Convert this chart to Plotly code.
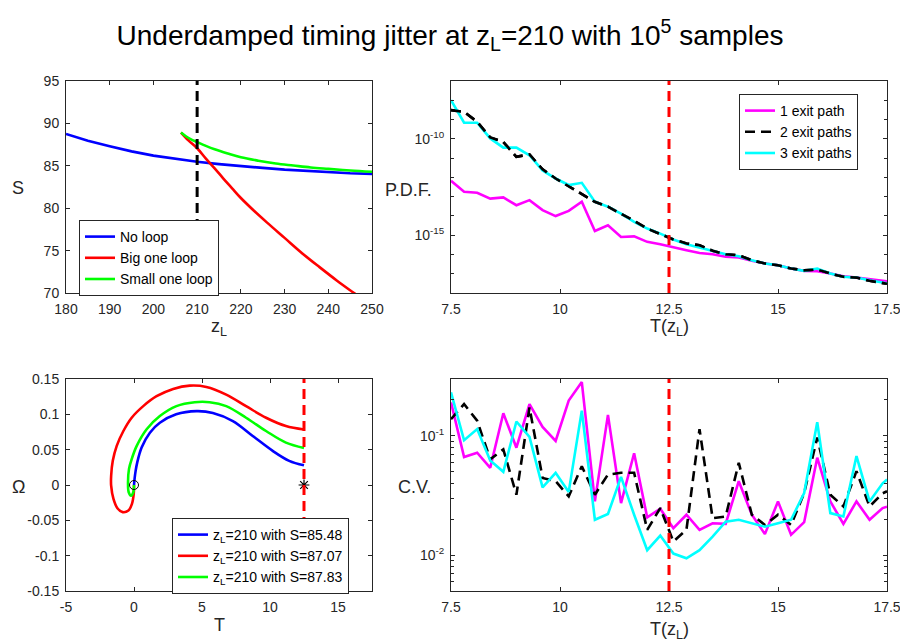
import plotly.graph_objects as go

# ---------------- data ----------------
TITLE = "Underdamped timing jitter at z<sub>L</sub>=210 with 10<sup>5</sup> samples"
zL_mark = 210
T_mark = 12.5

# Panel 1: action S vs z_L
z_noloop = [180, 185, 190, 195, 200, 205, 210, 215, 220, 225, 230, 235, 240, 245, 250]
S_noloop = [88.75, 87.95, 87.3, 86.7, 86.2, 85.8, 85.48, 85.2, 84.95, 84.75, 84.55, 84.4, 84.25, 84.12, 84.05]
z_big = [206.3, 208, 210, 212, 214, 216, 218, 220, 223, 226, 230, 234, 238, 242, 246, 248]
S_big = [88.92, 88.0, 87.07, 85.85, 84.7, 83.5, 82.35, 81.2, 79.7, 78.3, 76.5, 74.7, 73.05, 71.45, 69.95, 69.2]
z_small = [206.3, 207.5, 208.5, 210, 212, 214, 217, 220, 224, 228, 232, 236, 240, 245, 250]
S_small = [88.92, 88.45, 88.15, 87.8, 87.35, 86.95, 86.45, 86.0, 85.6, 85.27, 85.03, 84.8, 84.64, 84.45, 84.3]
z_ticks = [180, 190, 200, 210, 220, 230, 240, 250]
S_ticks = [70, 75, 80, 85, 90, 95]

# Panels 2 & 4: sampling grid in T(z_L)
T_grid = [7.5, 7.8, 8.1, 8.4, 8.7, 9.0, 9.3, 9.6, 9.9, 10.2, 10.5, 10.8, 11.1, 11.4, 11.7,
          12.0, 12.3, 12.6, 12.9, 13.2, 13.5, 13.8, 14.1, 14.4, 14.7, 15.0, 15.3, 15.6,
          15.9, 16.2, 16.5, 16.8, 17.1, 17.4, 17.5]

pdf_1path = [6.6e-13, 1.78e-13, 1.58e-13, 7.9e-14, 9.1e-14, 3.6e-14, 6.6e-14, 2.0e-14, 9.8e-15,
             1.82e-14, 5.4e-14, 1.66e-15, 3.3e-15, 8.1e-16, 8.7e-16, 4.5e-16, 3.4e-16, 2.3e-16,
             1.66e-16, 1.2e-16, 1.02e-16, 7.6e-17, 6.9e-17, 4.7e-17, 3.4e-17, 2.75e-17, 1.86e-17,
             1.41e-17, 1.35e-17, 1.02e-17, 7.4e-18, 6.3e-18, 5.0e-18, 4.1e-18, 4.0e-18]
pdf_2path = [3.1e-9, 2.5e-9, 7.6e-10, 1.17e-10, 6.9e-11, 1.17e-11, 1.55e-11, 2.6e-12, 8.7e-13,
             3.5e-13, 1.35e-13, 5.4e-14, 3.0e-14, 1.3e-14, 5.5e-15, 2.2e-15, 1.2e-15, 6.0e-16,
             3.7e-16, 3.0e-16, 1.55e-16, 1.02e-16, 9.1e-17, 5.0e-17, 3.4e-17, 2.75e-17, 1.86e-17,
             1.5e-17, 1.66e-17, 1.02e-17, 6.9e-18, 6.3e-18, 4.3e-18, 3.1e-18, 3.0e-18]
pdf_3path = [1.02e-8, 6.8e-10, 6.8e-10, 1.05e-10, 3.5e-11, 3.5e-11, 1.4e-11, 2.3e-12, 8.7e-13,
             4.0e-13, 5.2e-13, 5.4e-14, 3.0e-14, 1.3e-14, 4.9e-15, 2.2e-15, 1.2e-15, 6.0e-16,
             3.4e-16, 2.3e-16, 1.55e-16, 1.02e-16, 8.1e-17, 5.0e-17, 3.4e-17, 2.75e-17, 1.86e-17,
             1.41e-17, 1.86e-17, 1.02e-17, 6.9e-18, 6.3e-18, 4.6e-18, 3.4e-18, 3.2e-18]

cv_1path = [0.191, 0.0665, 0.0723, 0.054, 0.155, 0.0796, 0.185, 0.119, 0.0907, 0.198, 0.283,
            0.0282, 0.150, 0.0273, 0.0715, 0.0207, 0.0245, 0.0168, 0.0218, 0.0163, 0.0185,
            0.0183, 0.0417, 0.0218, 0.0150, 0.0282, 0.0148, 0.0189, 0.0656, 0.0282, 0.0183,
            0.0282, 0.0198, 0.0248, 0.0255]
cv_2path = [0.138, 0.185, 0.134, 0.0636, 0.0771, 0.0321, 0.173, 0.0444, 0.0417, 0.0311, 0.0557,
            0.0321, 0.0474, 0.0490, 0.0490, 0.0163, 0.0248, 0.0130, 0.0163, 0.114, 0.0204,
            0.0211, 0.0595, 0.0218, 0.0179, 0.0218, 0.0179, 0.0332, 0.0968, 0.0321, 0.0256,
            0.0506, 0.0256, 0.0330, 0.0343]
cv_3path = [0.232, 0.0919, 0.114, 0.0622, 0.050, 0.132, 0.098, 0.037, 0.049, 0.0339, 0.163,
            0.0198, 0.0221, 0.0453, 0.0218, 0.0110, 0.0146, 0.0103, 0.0094, 0.0110, 0.0143,
            0.0191, 0.0198, 0.0185, 0.0173, 0.0185, 0.0198, 0.0332, 0.130, 0.0225, 0.0211,
            0.0677, 0.0282, 0.040, 0.0430]

T_ticks = [7.5, 10, 12.5, 15, 17.5]
T_ticktext = ["7.5", "10", "12.5", "15", "17.5"]

# Panel 3: exit paths in (T, Omega)
T_blue = [0, 0.05, 0.12, 0.24, 0.56, 1.17, 1.9, 3.1, 4.6, 5.8, 7.27, 8.73, 10.2, 11.41, 12.5]
W_blue = [0, 0.01, 0.02, 0.032, 0.053, 0.074, 0.088, 0.1, 0.1045, 0.102, 0.0905, 0.0694, 0.0483, 0.0342, 0.0278]
T_red = [0, -0.02, -0.15, -0.41, -0.83, -1.22, -1.51, -1.68, -1.68, -1.56, -1.27, -0.78, -0.17,
         0.68, 1.66, 2.88, 4.1, 5.32, 6.78, 8.24, 9.71, 11.17, 12.5]
W_red = [0, -0.0127, -0.0267, -0.0361, -0.0384, -0.0328, -0.0197, -0.0009, 0.0131, 0.0342, 0.0553,
         0.0764, 0.0952, 0.1116, 0.1256, 0.136, 0.1406, 0.1388, 0.128, 0.1116, 0.0952, 0.0834, 0.0785]
T_green = [0, -0.05, -0.22, -0.39, -0.44, -0.37, -0.17, 0.2, 0.93, 1.9, 3.12, 4.46, 5.56, 6.78,
           8.24, 9.71, 11.17, 12.5]
W_green = [0, -0.0103, -0.015, -0.0103, 0.0038, 0.0225, 0.0366, 0.0553, 0.0788, 0.0975, 0.1116,
           0.1172, 0.1172, 0.1116, 0.0952, 0.0764, 0.060, 0.0525]
S_labels = ["85.48", "87.07", "87.83"]
Tx_ticks = [-5, 0, 5, 10, 15]
Tx_ticktext = ["-5", "0", "5", "10", "15"]
W_ticks = [-0.15, -0.1, -0.05, 0, 0.05, 0.1, 0.15]
W_ticktext = ["-0.15", "-0.1", "-0.05", "0", "0.05", "0.1", "0.15"]

# ---------------- figure ----------------
FONT = "Liberation Sans, Arial, Helvetica, sans-serif"
TXT = "#262626"
W, H = 900, 642

def px_x(p):
    return p / W

def px_y(p):
    return 1 - p / H

fig = go.Figure()

lw = 2.6
# panel 1
fig.add_trace(go.Scatter(x=z_noloop, y=S_noloop, mode="lines", name="No loop",
                         line=dict(color="#0000FF", width=lw), xaxis="x", yaxis="y", legend="legend"))
fig.add_trace(go.Scatter(x=z_big, y=S_big, mode="lines", name="Big one loop", line_shape="spline",
                         line=dict(color="#FF0000", width=lw), xaxis="x", yaxis="y", legend="legend"))
fig.add_trace(go.Scatter(x=z_small, y=S_small, mode="lines", name="Small one loop", line_shape="spline",
                         line=dict(color="#00FF00", width=lw), xaxis="x", yaxis="y", legend="legend"))

# panel 2
fig.add_trace(go.Scatter(x=T_grid, y=pdf_1path, mode="lines", name="1 exit path",
                         line=dict(color="#FF00FF", width=lw), xaxis="x2", yaxis="y2", legend="legend2"))
fig.add_trace(go.Scatter(x=T_grid, y=pdf_2path, mode="lines", name="2 exit paths",
                         line=dict(color="#000000", width=lw, dash="10px,6px"), xaxis="x2", yaxis="y2", legend="legend2"))
fig.add_trace(go.Scatter(x=T_grid, y=pdf_3path, mode="lines", name="3 exit paths",
                         line=dict(color="#00FFFF", width=lw), xaxis="x2", yaxis="y2", legend="legend2"))
fig.add_trace(go.Scatter(x=T_grid, y=pdf_2path, mode="lines", showlegend=False, hoverinfo="skip",
                         line=dict(color="#000000", width=lw, dash="10px,6px"), xaxis="x2", yaxis="y2"))

# panel 3
for Tc, Wc, col, s in [(T_blue, W_blue, "#0000FF", S_labels[0]),
                       (T_red, W_red, "#FF0000", S_labels[1]),
                       (T_green, W_green, "#00FF00", S_labels[2])]:
    fig.add_trace(go.Scatter(x=Tc, y=Wc, mode="lines", line_shape="spline",
                             name="z<sub>L</sub>=210 with S=" + s,
                             line=dict(color=col, width=lw), xaxis="x3", yaxis="y3", legend="legend3"))
fig.add_trace(go.Scatter(x=[0], y=[0], mode="markers", showlegend=False,
                         marker=dict(symbol="circle-open", size=9, color="black", line=dict(width=1)),
                         xaxis="x3", yaxis="y3"))
fig.add_trace(go.Scatter(x=[T_mark], y=[0], mode="markers", showlegend=False,
                         marker=dict(symbol="asterisk-open", size=9, color="black", line=dict(width=1.2)),
                         xaxis="x3", yaxis="y3"))

# panel 4
fig.add_trace(go.Scatter(x=T_grid, y=cv_1path, mode="lines", showlegend=False,
                         line=dict(color="#FF00FF", width=lw), xaxis="x4", yaxis="y4"))
fig.add_trace(go.Scatter(x=T_grid, y=cv_2path, mode="lines", showlegend=False,
                         line=dict(color="#000000", width=lw, dash="10px,6px"), xaxis="x4", yaxis="y4"))
fig.add_trace(go.Scatter(x=T_grid, y=cv_3path, mode="lines", showlegend=False,
                         line=dict(color="#00FFFF", width=lw), xaxis="x4", yaxis="y4"))

common = dict(showline=True, linecolor=TXT, linewidth=1, mirror="ticks", ticks="inside",
              ticklen=4, tickcolor=TXT, tickwidth=1, showgrid=False, zeroline=False,
              automargin=False, ticklabelstandoff=3, ticklabeloverflow="allow",
              tickfont=dict(family=FONT, size=14, color=TXT))

left_dom = [px_x(66), px_x(372)]
right_dom = [px_x(451), px_x(887)]
top_dom = [px_y(293), px_y(81)]
bot_dom = [px_y(591), px_y(379)]

pdf_decades = [10.0 ** k for k in range(-18, -6)]
cv_minor = [0.005, 0.006, 0.007, 0.008, 0.009, 0.02, 0.03, 0.04, 0.05, 0.06, 0.07, 0.08, 0.09, 0.2, 0.3]

fig.update_layout(
    width=W, height=H, margin=dict(l=0, r=0, t=0, b=0, autoexpand=False),
    paper_bgcolor="white", plot_bgcolor="white",
    font=dict(family=FONT, color=TXT),
    title=dict(text=TITLE, x=0.5, xanchor="center", y=px_y(35), yanchor="middle",
               font=dict(family=FONT, size=28, color="black")),
    xaxis=dict(domain=left_dom, anchor="y", range=[180, 250], tickvals=z_ticks, **common),
    yaxis=dict(domain=top_dom, anchor="x", range=[70, 95], tickvals=S_ticks, **common),
    xaxis2=dict(domain=right_dom, anchor="y2", range=[7.5, 17.5], tickvals=T_ticks, ticktext=T_ticktext, **common),
    yaxis2=dict(domain=top_dom, anchor="x2", type="log", range=[-18, -7],
                tickvals=[1e-15, 1e-10], ticktext=["10<sup>-15</sup>", "10<sup>-10</sup>"],
                minor=dict(tickvals=pdf_decades, ticks="inside", ticklen=3, tickcolor=TXT, showgrid=False),
                **common),
    xaxis3=dict(domain=left_dom, anchor="y3", range=[-5, 17.5], tickvals=Tx_ticks, ticktext=Tx_ticktext, **common),
    yaxis3=dict(domain=bot_dom, anchor="x3", range=[-0.15, 0.15], tickvals=W_ticks, ticktext=W_ticktext, **common),
    xaxis4=dict(domain=right_dom, anchor="y4", range=[7.5, 17.5], tickvals=T_ticks, ticktext=T_ticktext, **common),
    yaxis4=dict(domain=bot_dom, anchor="x4", type="log", range=[-2.30103, -0.522879],
                tickvals=[0.01, 0.1], ticktext=["10<sup>-2</sup>", "10<sup>-1</sup>"],
                minor=dict(tickvals=cv_minor, ticks="inside", ticklen=3, tickcolor=TXT, showgrid=False),
                **common),
    legend=dict(x=px_x(79), y=px_y(220), xanchor="left", yanchor="top", bgcolor="white",
                bordercolor=TXT, borderwidth=1, font=dict(family=FONT, size=14, color="black"),
                tracegroupgap=0),
    legend2=dict(x=px_x(739), y=px_y(94), xanchor="left", yanchor="top", bgcolor="white",
                 bordercolor=TXT, borderwidth=1, font=dict(family=FONT, size=14, color="black"),
                 tracegroupgap=0),
    legend3=dict(x=px_x(172), y=px_y(518), xanchor="left", yanchor="top", bgcolor="white",
                 bordercolor=TXT, borderwidth=1, font=dict(family=FONT, size=14, color="black"),
                 tracegroupgap=0),
)

shapes = [
    dict(type="line", xref="x", yref="y domain", x0=zL_mark, x1=zL_mark, y0=0, y1=1,
         line=dict(color="black", width=3, dash="10px,6px")),
]
for xa in ["x2", "x3", "x4"]:
    shapes.append(dict(type="line", xref=xa, yref=xa.replace("x", "y") + " domain",
                       x0=T_mark, x1=T_mark, y0=0, y1=1,
                       line=dict(color="#FF0000", width=3, dash="10px,6px")))
fig.update_layout(shapes=shapes)

labels = [
    ("S", 18, 188), ("z<sub>L</sub>", 219, 328),
    ("P.D.F.", 408, 190), ("T(z<sub>L</sub>)", 669, 328),
    ("Ω", 18, 487), ("T", 219, 625),
    ("C.V.", 414, 487), ("T(z<sub>L</sub>)", 669, 630),
]
fig.update_layout(annotations=[
    dict(text=t, x=px_x(xp), y=px_y(yp), xref="paper", yref="paper", showarrow=False,
         xanchor="center", yanchor="middle", font=dict(family=FONT, size=18, color=TXT))
    for t, xp, yp in labels
])

fig.write_html("out.html")
